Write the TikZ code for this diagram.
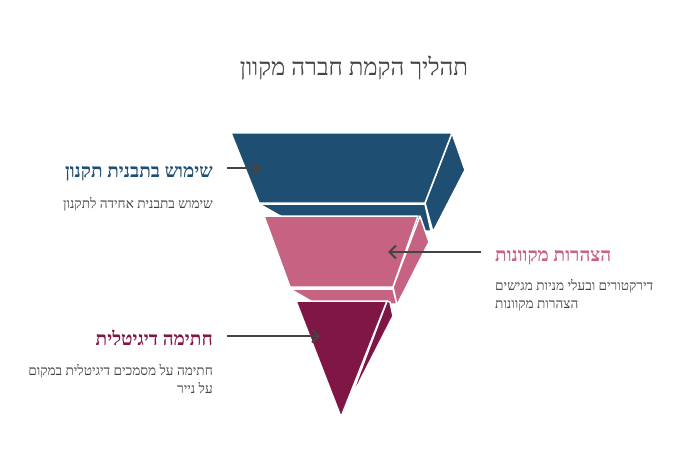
\documentclass[tikz,border=0pt]{standalone}
\usepackage{fontspec}
\setmainfont{Liberation Serif}
\newfontfamily\hebfont[Script=Hebrew]{Liberation Serif}
\TeXXeTstate=1
\usetikzlibrary{arrows.meta}
\definecolor{cblue}{HTML}{1F4E73}
\definecolor{cpink}{HTML}{C66282}
\definecolor{cpurple}{HTML}{801645}
\definecolor{ctext}{HTML}{444444}
\begin{document}
\begin{tikzpicture}[x=1pt,y=-1pt,
  face/.style={draw=white,line width=1.5pt,line join=round},
  arr/.style={draw=ctext,line width=2pt,-{Straight Barb[length=6.5pt,width=13pt,line width=2pt]}},
  ttl/.style={inner sep=0pt,text=ctext,font=\hebfont\fontsize{24}{28}\selectfont},
  lbl/.style={inner sep=0pt,font=\hebfont\bfseries\fontsize{19}{22}\selectfont},
  sub/.style={inner sep=0pt,text=ctext,font=\hebfont\fontsize{13.6}{16}\selectfont}]
\useasboundingbox (0,0) rectangle (696,468);
% block 1 (blue)
\fill[cblue,face] (259,204) -- (425,204) -- (431,231) -- (307,231) -- cycle;
\fill[cblue,face] (452,133) -- (465,170) -- (433,232) -- (425,203) -- cycle;
\fill[cblue,face] (231,133) -- (452,133) -- (425,203) -- (259,203) -- cycle;
% block 2 (pink)
\fill[cpink,face] (290,289) -- (393,289) -- (397,304) -- (316,304) -- cycle;
\fill[cpink,face] (420,216) -- (429,242) -- (397,305) -- (393,287) -- cycle;
\fill[cpink,face] (264,216) -- (418,216) -- (393,287) -- (290,287) -- cycle;
% block 3 (purple)
\fill[cpurple,face] (387,301) -- (390,302) -- (393,316) -- (349,402) -- cycle;
\fill[cpurple,face] (296,301) -- (387,301) -- (341,417) -- cycle;
% title
\node[ttl,anchor=base] (title) at (354,76) {\beginR תהליך הקמת חברה מקוון\endR};
% labels
\node[lbl,text=cblue,anchor=base east] (l1) at (213,177) {\beginR שימוש בתבנית תקנון\endR};
\node[sub,anchor=base east] (s1) at (213,208) {\beginR שימוש בתבנית אחידה לתקנון\endR};
\node[lbl,text=cpink,anchor=base west] (l2) at (495,261) {\beginR הצהרות מקוונות\endR};
\node[sub,anchor=base west] (s2a) at (495,290) {\beginR דירקטורים ובעלי מניות מגישים\endR};
\node[sub,anchor=base west] (s2b) at (495,308) {\beginR הצהרות מקוונות\endR};
\node[lbl,text=cpurple,anchor=base east] (l3) at (213,345) {\beginR חתימה דיגיטלית\endR};
\node[sub,anchor=base east] (s3a) at (213,375) {\beginR חתימה על מסמכים דיגיטלית במקום\endR};
\node[sub,anchor=base east] (s3b) at (213,393) {\beginR על נייר\endR};
% arrows
\coordinate (a1s) at (227,168); \coordinate (a1e) at (261,168);
\coordinate (a2s) at (481,252); \coordinate (a2e) at (388,252);
\coordinate (a3s) at (227,336); \coordinate (a3e) at (320,336);
\draw[arr] (a1s) -- (a1e);
\draw[arr] (a2s) -- (a2e);
\draw[arr] (a3s) -- (a3e);
\end{tikzpicture}
\end{document}
